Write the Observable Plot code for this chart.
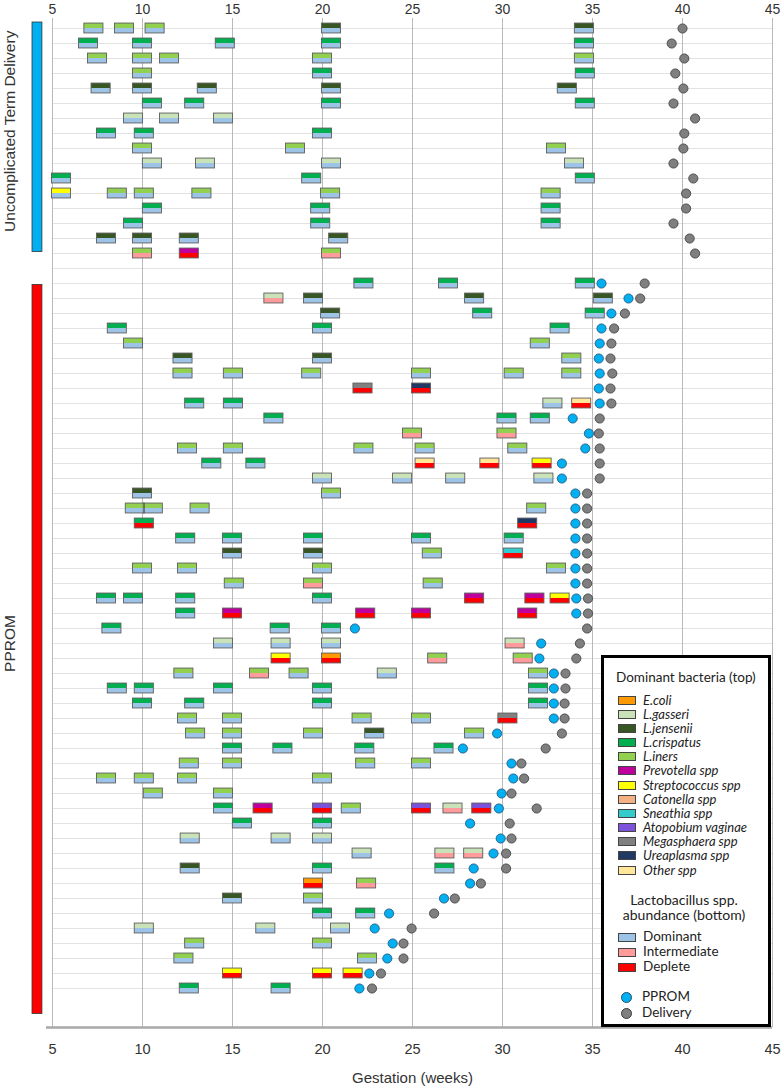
<!DOCTYPE html>
<html><head><meta charset="utf-8">
<script src="https://cdn.jsdelivr.net/npm/d3@7"></script>
<script src="https://cdn.jsdelivr.net/npm/@observablehq/plot@0.6"></script>
<style>
body{margin:0;background:#fff;}
#wrap{position:relative;width:781px;height:1092px;overflow:hidden;font-family:"Liberation Sans",Arial,sans-serif;}
#legend{position:absolute;left:601px;top:655px;width:170px;height:372px;box-sizing:border-box;border:3px solid #000;background:#fff;font-family:Lato,"Liberation Sans",sans-serif;color:#222;}
#legend .t{position:absolute;white-space:nowrap;line-height:1;}
#legend .sw{position:absolute;width:16px;height:7px;border:1px solid #444;}
#legend .dot{position:absolute;width:11px;height:11px;border-radius:50%;box-sizing:border-box;}
</style></head>
<body><div id="wrap"><div id="legend"></div></div>
<script>
// ---- categories ----
const bacteriaCodes  = ["E","G","J","C","I","P","S","Ca","Sn","A","M","U","O"];
const bacteriaNames  = ["E.coli","L.gasseri","L.jensenii","L.crispatus","L.iners","Prevotella spp","Streptococcus spp","Catonella spp","Sneathia spp","Atopobium vaginae","Megasphaera spp","Ureaplasma spp","Other spp"];
const bacteriaColors = ["#ff9900","#c9e2b8","#375623","#00b050","#92d050","#c0009c","#ffff00","#f4b183","#33cccc","#7b52d9","#808080","#1f3864","#ffe699"];
const abundanceCodes  = ["D","In","Dp"];
const abundanceNames  = ["Dominant","Intermediate","Deplete"];
const abundanceColors = ["#9dc3e6","#ff9b9b","#ff0000"];
const weekTicks = [5,10,15,20,25,30,35,40,45];
const groupNames = ["Uncomplicated Term Delivery","PPROM"];
const groupColors = ["#00b0f0","#ff0000"];
const groupBarStart = [-0.4, 17.1];
const groupBarEnd = [14.9, 65.7];
const outcomeNames = ["PPROM","Delivery"];
const outcomeColors = ["#00b0f0","#7f7f7f"];

// ---- samples: [week, dominant bacteria, lactobacillus abundance] per participant row ----
const termSamples = [
 [[7.3,"I","D"],[9.0,"I","D"],[10.7,"I","D"],[20.5,"J","D"],[34.55,"J","D"]],
 [[7.0,"C","D"],[10.0,"C","D"],[14.6,"C","D"],[20.5,"C","D"],[34.55,"C","D"]],
 [[7.5,"I","D"],[10.0,"I","D"],[11.5,"I","D"],[20.0,"I","D"],[34.55,"I","D"]],
 [[10.0,"I","D"],[20.0,"C","D"],[34.6,"C","D"]],
 [[7.7,"J","D"],[10.0,"J","D"],[13.6,"J","D"],[20.5,"J","D"],[33.6,"J","D"]],
 [[10.55,"C","D"],[12.9,"C","D"],[20.5,"C","D"],[34.6,"C","D"]],
 [[9.5,"G","D"],[11.5,"G","D"],[14.5,"G","D"]],
 [[8.0,"C","D"],[10.1,"C","D"],[20.0,"C","D"]],
 [[10.0,"I","D"],[18.5,"I","D"],[33.0,"I","D"]],
 [[10.55,"G","D"],[13.5,"G","D"],[20.5,"G","D"],[34.0,"G","D"]],
 [[5.5,"C","D"],[19.4,"C","D"],[34.6,"C","D"]],
 [[5.5,"S","D"],[8.6,"I","D"],[10.1,"I","D"],[13.3,"I","D"],[20.45,"I","D"],[32.7,"I","D"]],
 [[10.55,"C","D"],[19.9,"C","D"],[32.7,"C","D"]],
 [[9.5,"C","D"],[19.9,"C","D"],[32.7,"C","D"]],
 [[8.0,"J","D"],[10.0,"J","D"],[12.6,"J","D"],[20.9,"J","D"]],
 [[10.0,"I","In"],[12.6,"P","Dp"],[20.5,"I","In"]]
];
const termDelivery = [40.0,39.4,40.1,39.6,40.05,39.5,40.7,40.1,40.05,39.5,40.6,40.2,40.2,39.5,40.4,40.7];

const ppromSamples = [
 [[22.3,"C","D"],[27.0,"C","D"],[34.6,"C","D"]],
 [[17.3,"G","In"],[19.5,"J","D"],[28.45,"J","D"],[35.6,"J","D"]],
 [[20.45,"J","D"],[28.9,"C","D"],[35.15,"C","D"]],
 [[8.6,"C","D"],[20.0,"C","D"],[33.2,"C","D"]],
 [[9.5,"I","D"],[32.1,"I","D"]],
 [[12.25,"J","D"],[20.0,"J","D"],[33.85,"I","D"]],
 [[12.25,"I","D"],[15.05,"I","D"],[19.4,"I","D"],[25.5,"I","D"],[30.65,"I","D"],[33.85,"I","D"]],
 [[22.25,"M","Dp"],[25.5,"U","Dp"]],
 [[12.9,"C","D"],[15.05,"C","D"],[32.8,"G","D"],[34.4,"O","Dp"]],
 [[17.3,"C","D"],[30.25,"C","D"],[32.1,"C","D"]],
 [[25.0,"I","In"],[30.25,"I","In"]],
 [[12.5,"I","D"],[15.05,"I","D"],[22.3,"I","D"],[25.7,"I","D"],[30.85,"I","D"]],
 [[13.85,"C","D"],[16.3,"C","D"],[25.7,"O","Dp"],[29.3,"O","Dp"],[32.2,"S","Dp"]],
 [[20.0,"G","D"],[24.45,"G","D"],[27.4,"G","D"],[32.3,"G","D"]],
 [[10.0,"J","D"],[20.5,"I","D"]],
 [[9.6,"I","D"],[10.6,"I","D"],[13.2,"I","D"],[31.9,"I","D"]],
 [[10.1,"C","Dp"],[31.4,"U","Dp"]],
 [[12.4,"C","D"],[15.0,"C","D"],[19.5,"C","D"],[25.5,"C","D"],[30.65,"C","D"]],
 [[15.0,"J","D"],[19.5,"J","D"],[26.1,"I","D"],[30.6,"Sn","Dp"]],
 [[10.0,"I","D"],[12.5,"I","D"],[20.0,"I","D"],[33.0,"I","D"]],
 [[15.1,"I","D"],[19.5,"I","In"],[26.15,"I","D"]],
 [[8.0,"C","D"],[9.5,"C","D"],[12.4,"C","D"],[20.0,"C","D"],[28.45,"P","Dp"],[31.8,"P","Dp"],[33.2,"S","Dp"]],
 [[12.4,"C","D"],[15.0,"P","Dp"],[22.4,"P","Dp"],[25.5,"P","Dp"],[31.4,"P","Dp"]],
 [[8.3,"C","D"],[17.65,"C","D"],[20.5,"C","D"]],
 [[14.5,"G","D"],[17.7,"G","D"],[20.5,"G","D"],[30.7,"G","In"]],
 [[17.7,"S","Dp"],[20.5,"E","Dp"],[26.4,"I","In"],[31.15,"I","In"]],
 [[12.3,"I","D"],[16.5,"I","In"],[18.7,"I","D"],[23.6,"G","D"],[32.0,"I","D"]],
 [[8.6,"C","D"],[10.1,"C","D"],[14.5,"C","D"],[20.0,"C","D"],[32.0,"C","D"]],
 [[10.0,"C","D"],[12.9,"C","D"],[20.0,"C","D"],[32.0,"C","D"]],
 [[12.5,"I","D"],[15.0,"I","D"],[22.2,"I","D"],[25.5,"I","D"],[30.3,"M","Dp"]],
 [[12.95,"I","D"],[15.0,"I","D"],[19.5,"I","D"],[22.9,"J","D"],[28.45,"I","D"]],
 [[15.0,"C","D"],[17.8,"C","D"],[22.35,"C","D"],[26.75,"C","D"]],
 [[12.6,"I","D"],[15.0,"I","D"],[22.4,"I","D"],[25.5,"I","D"]],
 [[8.0,"I","D"],[10.1,"I","D"],[12.5,"I","D"],[20.0,"I","D"]],
 [[10.6,"I","D"],[14.5,"I","D"]],
 [[14.5,"C","D"],[16.7,"P","Dp"],[20.0,"A","Dp"],[21.6,"I","D"],[25.5,"A","Dp"],[27.25,"G","In"],[28.85,"A","Dp"]],
 [[15.55,"C","D"],[20.0,"C","D"]],
 [[12.65,"G","D"],[17.7,"G","D"],[20.0,"G","D"]],
 [[22.2,"G","D"],[26.8,"G","In"],[28.4,"G","In"]],
 [[12.65,"J","D"],[20.0,"C","D"],[26.8,"C","D"]],
 [[19.5,"E","Dp"],[22.45,"I","In"]],
 [[15.0,"J","D"],[19.5,"I","D"]],
 [[20.0,"C","D"],[22.4,"C","D"]],
 [[10.1,"G","D"],[16.85,"G","D"],[21.0,"G","D"]],
 [[12.9,"I","D"],[20.0,"I","D"]],
 [[12.3,"I","D"],[22.5,"I","D"]],
 [[15.0,"S","Dp"],[20.0,"S","Dp"],[21.7,"S","Dp"]],
 [[12.6,"C","D"],[17.7,"C","D"]]
];
const ppromRupture  = [35.5,37.0,36.05,35.5,35.4,35.35,35.4,35.35,35.4,33.9,34.8,34.6,33.3,33.3,34.05,34.05,34.05,34.05,34.05,34.05,34.05,34.1,34.1,21.8,32.15,32.05,32.85,32.85,32.85,32.85,29.7,27.8,30.5,30.6,29.95,29.8,28.2,29.9,29.5,28.4,28.2,26.75,23.7,22.9,23.9,23.6,22.6,22.05];
const ppromDelivery = [37.9,37.65,36.8,36.2,36.05,36.0,36.1,36.0,36.05,35.4,35.35,35.4,35.4,35.4,34.7,34.7,34.7,34.7,34.7,34.7,34.7,34.75,34.75,34.7,34.3,34.1,33.5,33.5,33.45,33.45,33.3,32.4,31.05,31.2,30.5,31.9,30.4,30.5,30.2,30.2,28.8,27.35,26.2,24.95,24.5,24.5,23.25,22.75];

// ---- build tables ----
const ppromOffset = termSamples.length + 1;
const samples = [];
termSamples.forEach((r, i) => r.forEach(([w, b, a]) => samples.push({row: i, week: w, bact: b, abund: a})));
ppromSamples.forEach((r, i) => r.forEach(([w, b, a]) => samples.push({row: ppromOffset + i, week: w, bact: b, abund: a})));
const deliveries = [
  ...termDelivery.map((w, i) => ({row: i, week: w})),
  ...ppromDelivery.map((w, i) => ({row: ppromOffset + i, week: w}))
];
const ruptures = ppromRupture.map((w, i) => ({row: ppromOffset + i, week: w}));
const rowLines = d3.range(0, ppromOffset + ppromSamples.length);
const groups = groupNames.map((n, i) => ({name: n, start: groupBarStart[i], end: groupBarEnd[i]}));

const hw = 0.53, hh = 0.33;
const chart = Plot.plot({
  width: 781, height: 1092,
  marginLeft: 52, marginRight: 9, marginTop: 18, marginBottom: 65,
  x: {domain: [5, 45]},
  y: {domain: [-0.667, 66.6], reverse: true, axis: null},
  color: {domain: [...bacteriaCodes, ...abundanceCodes, ...groupNames], range: [...bacteriaColors, ...abundanceColors, ...groupColors]},
  style: {fontFamily: "Liberation Sans, Arial, sans-serif", fontSize: "13px", color: "#333", background: "#fff"},
  marks: [
    Plot.ruleY(rowLines, {y: d => d, stroke: "#e2e2e2", strokeWidth: 1.2}),
    Plot.ruleX(weekTicks, {x: d => d, stroke: "#b9b9b9", strokeWidth: 1, strokeDasharray: d => d === 5 ? "2,2" : null}),
    Plot.ruleY([66.6], {stroke: "#a8a8a8", strokeWidth: 2.5, insetLeft: -6}),
    Plot.rect(samples, {x1: d => d.week - hw, x2: d => d.week + hw, y1: d => d.row - hh, y2: d => d.row, fill: "bact"}),
    Plot.rect(samples, {x1: d => d.week - hw, x2: d => d.week + hw, y1: d => d.row, y2: d => d.row + hh, fill: "abund"}),
    Plot.rect(samples, {x1: d => d.week - hw, x2: d => d.week + hw, y1: d => d.row - hh, y2: d => d.row + hh, fill: "none", stroke: "#5e5e5e", strokeWidth: 0.9}),
    Plot.dot(ruptures, {x: "week", y: "row", r: 4.6, fill: outcomeColors[0], stroke: "#1f4e79", strokeWidth: 0.8}),
    Plot.dot(deliveries, {x: "week", y: "row", r: 4.6, fill: outcomeColors[1], stroke: "#3a3a3a", strokeWidth: 0.8}),
    Plot.rect(groups, {x1: 3.89, x2: 4.44, y1: "start", y2: "end", fill: "name", stroke: "#333", strokeWidth: 0.8}),
    Plot.text(groups, {y: d => (d.start + d.end) / 2 - 0.4, text: "name", rotate: -90, frameAnchor: "left", textAnchor: "middle", dx: -42, fontSize: 15.5, fill: "#333"}),
    Plot.axisX(weekTicks, {anchor: "top", tickSize: 0, tickPadding: 5, label: null, fontSize: 14, fill: "#333"}),
    Plot.axisX(weekTicks, {anchor: "bottom", tickSize: 0, tickPadding: 16, label: null, fontSize: 14.5, fill: "#333"}),
    Plot.text(["Gestation (weeks)"], {text: d => d, frameAnchor: "bottom", dy: 55, fontSize: 15, fill: "#333"})
  ]
});
const wrap = document.getElementById("wrap");
wrap.insertBefore(chart, wrap.firstChild);

// ---- legend (HTML overlay) ----
const lg = document.getElementById("legend");
const L = 604, T = 658; // inner origin (page coords)
function addText(txt, x, yc, size, style, anchorCenter) {
  const s = document.createElement("div");
  s.className = "t";
  s.textContent = txt;
  s.style.fontSize = size + "px";
  s.style.top = (yc - T - size * 0.5) + "px";
  if (style) s.style.fontStyle = style;
  s.style.left = (x - L) + "px";
  if (anchorCenter) s.style.transform = "translateX(-50%)";
  lg.appendChild(s);
}
function addSwatch(color, yc) {
  const s = document.createElement("div");
  s.className = "sw";
  s.style.background = color;
  s.style.left = (618 - L) + "px";
  s.style.top = (yc - T - 4.5) + "px";
  lg.appendChild(s);
}
addText("Dominant bacteria (top)", 616, 678, 13.5);
bacteriaNames.forEach((n, i) => {
  const yc = 700 + i * 14.17;
  addSwatch(bacteriaColors[i], yc);
  addText(n, 643, yc, 13, "italic");
});
addText("Lactobacillus spp.", 684, 900, 14, null, true);
addText("abundance (bottom)", 684, 915, 14, null, true);
abundanceNames.forEach((n, i) => {
  const yc = 937 + i * 15;
  addSwatch(abundanceColors[i], yc);
  addText(n, 643, yc, 13.5);
});
outcomeNames.forEach((n, i) => {
  const yc = 997 + i * 16;
  const d = document.createElement("div");
  d.className = "dot";
  d.style.background = outcomeColors[i];
  d.style.border = "1px solid " + (i ? "#3a3a3a" : "#1f4e79");
  d.style.left = (626 - 5.5 - L) + "px";
  d.style.top = (yc - 5.5 - T) + "px";
  lg.appendChild(d);
  addText(n, 642, yc, 13.5);
});
</script>
</body></html>
